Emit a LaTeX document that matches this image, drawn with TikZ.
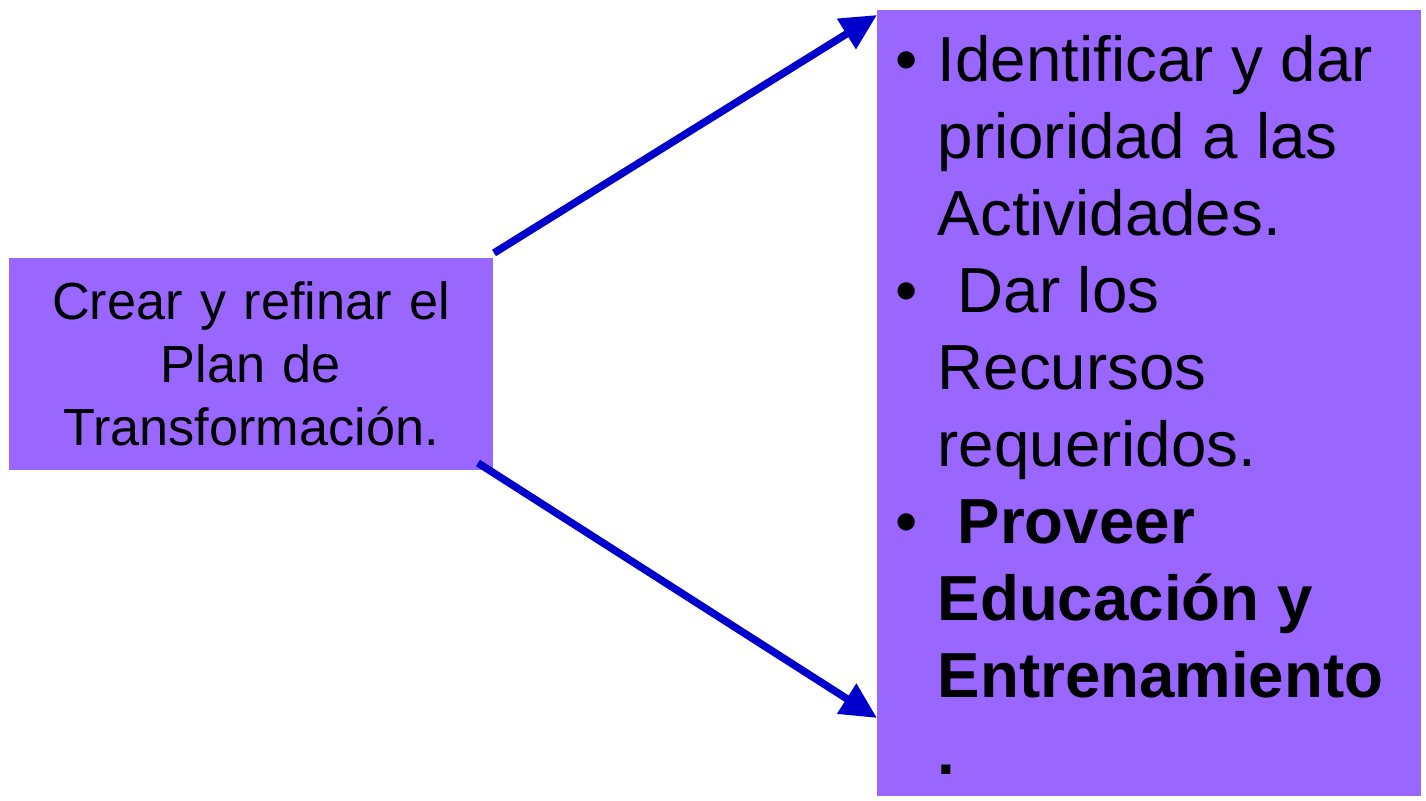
\documentclass[tikz,border=0pt]{standalone}
\usepackage{fontspec}
\setmainfont{Liberation Sans}
\usetikzlibrary{arrows.meta,calc}
\definecolor{boxviolet}{HTML}{9966FF}
\definecolor{arrowblue}{HTML}{0000CC}
\tikzset{
  box/.style={fill=boxviolet, draw=none, inner sep=0pt, rectangle},
  conn/.style={draw=arrowblue, line width=0.075cm,
    -{Triangle[length=0.36cm,width=0.34cm]}},
}
\newcommand{\bul}[1][0pt]{\makebox[0.42cm][l]{\textbullet}\hspace*{#1}}
\newcommand{\ind}{\hspace*{0.42cm}}
\begin{document}
\begin{tikzpicture}[x=0.01cm,y=-0.01cm]
\useasboundingbox (0,0) rectangle (1426,801);
\node[box, minimum width=4.84cm, minimum height=2.12cm, text width=4.84cm,
  align=center, font=\fontsize{14.85}{17.9}\selectfont] (src) at (251,364)
  {Crear y refinar el\\Plan de\\Transformación.};
\node[box, minimum width=5.44cm, minimum height=7.86cm] (dst) at (1149,403) {};
\node[anchor=north west, inner sep=0pt, align=left,
  font=\fontsize{18.1}{21.9}\selectfont] (lst) at (895,35)
  {\bul Identificar y dar\\
   \ind prioridad a las\\
   \ind Actividades.\\
   \bul[0.2cm]Dar los\\
   \ind Recursos\\
   \ind requeridos.\\
   \bul[0.2cm]\textbf{Proveer}\\
   \ind\textbf{Educación y}\\
   \ind\textbf{Entrenamiento}\\
   \ind\textbf{.}};
\coordinate (s1) at (494,253);
\coordinate (t1) at (877,15);
\coordinate (s2) at (478,463);
\coordinate (t2) at (877,718);
\draw[conn] (s1) -- (t1);
\draw[conn] (s2) -- (t2);
\end{tikzpicture}
\end{document}
